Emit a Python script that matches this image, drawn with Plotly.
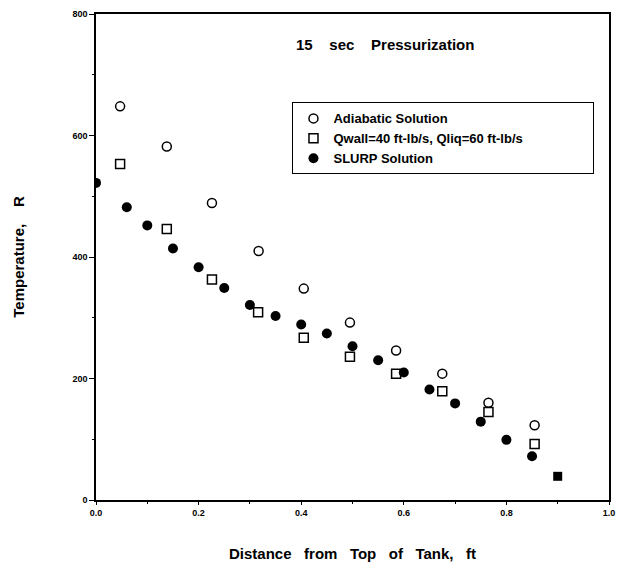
import plotly.graph_objects as go

# Adiabatic solution (open circles)
adiabatic_x = [0.047, 0.138, 0.226, 0.317, 0.405, 0.495, 0.585, 0.675, 0.765, 0.855]
adiabatic_y = [648, 582, 489, 410, 348, 292, 246, 208, 160, 123]

# Qwall=40, Qliq=60 (open squares)
qwall_x = [0.047, 0.138, 0.226, 0.316, 0.405, 0.495, 0.585, 0.675, 0.765, 0.855]
qwall_y = [553, 446, 363, 309, 267, 236, 208, 179, 145, 92]

# SLURP solution (filled circles)
slurp_x = [0.0, 0.06, 0.10, 0.15, 0.20, 0.25, 0.30, 0.35, 0.40, 0.45,
           0.50, 0.55, 0.60, 0.65, 0.70, 0.75, 0.80, 0.85]
slurp_y = [522, 482, 452, 414, 383, 349, 321, 303, 289, 274,
           253, 230, 210, 182, 159, 129, 99, 72]

# Extra filled square point
end_x = [0.90]
end_y = [39]

x_ticks = [0.0, 0.2, 0.4, 0.6, 0.8, 1.0]
x_ticklabels = ["0.0", "0.2", "0.4", "0.6", "0.8", "1.0"]
y_ticks = [0, 200, 400, 600, 800]
y_ticklabels = ["0", "200", "400", "600", "800"]

FONT = "Liberation Sans, Arial, sans-serif"
NB = "\u00a0"

fig = go.Figure()
fig.add_trace(go.Scatter(
    x=adiabatic_x, y=adiabatic_y, mode="markers",
    name="Adiabatic Solution",
    marker=dict(symbol="circle-open", size=9, color="black", line=dict(width=1.5)),
))
fig.add_trace(go.Scatter(
    x=qwall_x, y=qwall_y, mode="markers",
    name="Qwall=40 ft-lb/s, Qliq=60 ft-lb/s" + NB * 18,
    marker=dict(symbol="square-open", size=9, color="black", line=dict(width=1.5)),
))
fig.add_trace(go.Scatter(
    x=slurp_x, y=slurp_y, mode="markers",
    name="SLURP Solution",
    marker=dict(symbol="circle", size=10, color="black"),
))
fig.add_trace(go.Scatter(
    x=end_x, y=end_y, mode="markers", showlegend=False,
    marker=dict(symbol="square", size=9, color="black"),
))

fig.add_annotation(
    x=0.564, y=749, xref="x", yref="y", showarrow=False,
    text="15" + NB * 4 + "sec" + NB * 4 + "Pressurization",
    font=dict(family=FONT, size=15, color="black", weight="bold"),
)

fig.update_layout(
    width=618, height=568,
    margin=dict(l=96, r=9, t=14, b=68),
    paper_bgcolor="white", plot_bgcolor="white",
    font=dict(family=FONT, color="black"),
    showlegend=True,
    legend=dict(
        x=0.383, y=0.818, xanchor="left", yanchor="top",
        bgcolor="white", bordercolor="black", borderwidth=1,
        font=dict(family=FONT, size=13, color="black", weight="bold"),
        tracegroupgap=0, itemsizing="trace",
    ),
    xaxis=dict(
        range=[0, 1.0], tickvals=x_ticks, ticktext=x_ticklabels,
        showgrid=False, zeroline=False, showline=True, mirror=True,
        linecolor="black", linewidth=1.5, automargin=False,
        ticklabeloverflow="allow",
        ticks="outside", ticklen=3, tickcolor="black", tickwidth=1,
        minor=dict(dtick=0.1, ticks="outside", ticklen=2, tickcolor="black"),
        tickfont=dict(family=FONT, size=9, color="black", weight="bold"),
        title=dict(text="Distance" + NB * 3 + "from" + NB * 3 + "Top" + NB * 3 + "of" + NB * 3 + "Tank," + NB * 3 + "ft",
                   font=dict(family=FONT, size=15, color="black", weight="bold"), standoff=32),
    ),
    yaxis=dict(
        range=[0, 800], tickvals=y_ticks, ticktext=y_ticklabels,
        showgrid=False, zeroline=False, showline=True, mirror=True,
        linecolor="black", linewidth=1.5, automargin=False,
        ticklabeloverflow="allow",
        ticks="outside", ticklen=5, tickcolor="black", tickwidth=1,
        minor=dict(dtick=100, ticks="outside", ticklen=2, tickcolor="black"),
        tickfont=dict(family=FONT, size=9, color="black", weight="bold"),
        title=dict(text="Temperature," + NB * 4 + "R",
                   font=dict(family=FONT, size=15, color="black", weight="bold"), standoff=44),
    ),
)

fig.write_html("out.html", config={"displayModeBar": False},
               post_script="document.body.style.margin='0';")
